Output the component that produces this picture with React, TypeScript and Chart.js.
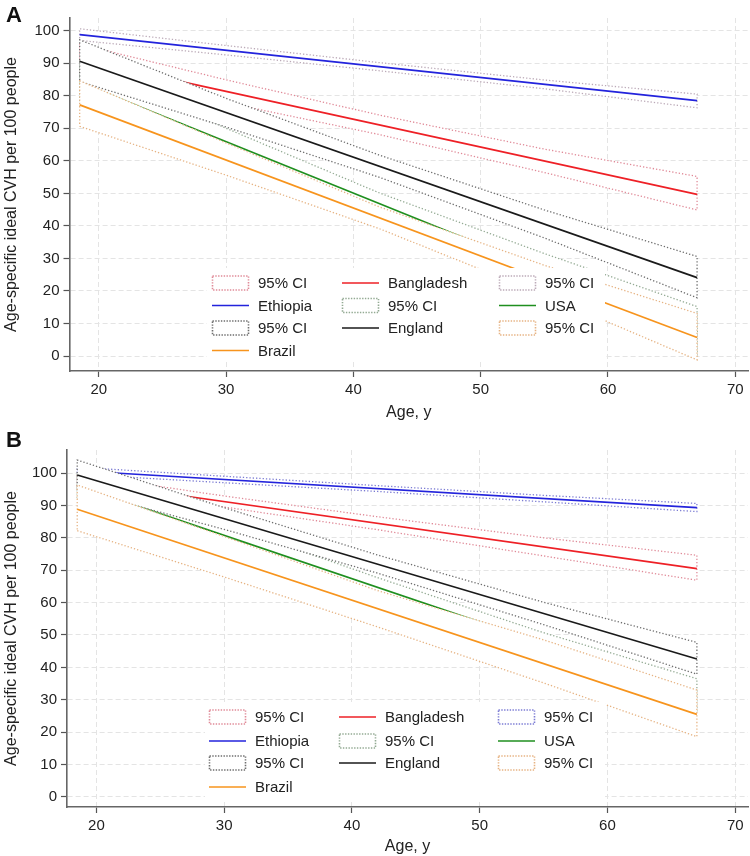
import React, { useEffect, useRef } from 'react';
import { Chart, registerables } from 'chart.js';

Chart.register(...registerables);

// ---------------- data ----------------
const LINE_AGES = [18.5, 67];
const CI_AGES = [18.5, 30, 42, 55, 67];
const COUNTRIES = ['Bangladesh', 'Ethiopia', 'USA', 'England', 'Brazil'];
const X_TICKS = [20, 30, 40, 50, 60, 70];
const Y_TICKS = [0, 10, 20, 30, 40, 50, 60, 70, 80, 90, 100];

// Panel A: fitted line (at LINE_AGES) and 95% CI bounds (at CI_AGES)
const A_BANGLADESH = [91.2, 49.7];
const A_BANGLADESH_LO = [86.6, 77.9, 68.1, 56.4, 44.9];
const A_BANGLADESH_HI = [95.8, 84.9, 74.1, 63.6, 55.2];
const A_ETHIOPIA = [98.8, 78.5];
const A_ETHIOPIA_LO = [97.0, 92.55, 87.7, 82.15, 76.3];
const A_ETHIOPIA_HI = [100.6, 95.45, 90.2, 84.85, 80.5];
const A_USA = [84.1, 7.4];
const A_USA_LO = [77.6, 61.8, 43.8, 21.3, -0.4];
const A_USA_HI = [90.6, 70.0, 50.2, 31.5, 15.2];
const A_ENGLAND = [90.6, 24.1];
const A_ENGLAND_LO = [84.4, 70.4, 55.0, 36.3, 17.9];
const A_ENGLAND_HI = [97.2, 79.2, 61.8, 44.9, 30.6];
const A_BRAZIL = [77.2, 5.7];
const A_BRAZIL_LO = [70.6, 55.6, 39.2, 18.8, -1.2];
const A_BRAZIL_HI = [84.6, 65.5, 45.9, 27.9, 13.1];

// Panel B
const B_BANGLADESH = [97.6, 70.5];
const B_BANGLADESH_LO = [95.6, 89.5, 82.5, 74.4, 66.9];
const B_BANGLADESH_HI = [99.6, 92.9, 86.5, 80.0, 74.6];
const B_ETHIOPIA = [100.7, 89.3];
const B_ETHIOPIA_LO = [99.6, 97.0, 94.3, 91.1, 88.1];
const B_ETHIOPIA_HI = [101.8, 99.0, 96.1, 93.1, 90.6];
const B_USA = [96.1, 31.3];
const B_USA_LO = [92.2, 77.1, 61.7, 43.9, 26.1];
const B_USA_HI = [100.0, 84.3, 67.7, 50.7, 36.5];
const B_ENGLAND = [99.4, 42.6];
const B_ENGLAND_LO = [94.8, 82.6, 69.1, 53.2, 37.9];
const B_ENGLAND_HI = [104.0, 89.3, 74.7, 60.1, 47.7];
const B_BRAZIL = [88.8, 25.5];
const B_BRAZIL_LO = [82.2, 67.9, 52.5, 35.2, 18.6];
const B_BRAZIL_HI = [96.3, 80.4, 63.7, 48.5, 33.0];

// ---------------- style ----------------
const FONT = "'Liberation Sans', Arial, Helvetica, sans-serif";
const TEXT = '#222222';
const LINE_COLORS = ['#ee2026', '#2323dc', '#1f8f1f', '#1a1a1a', '#f7941d'];
const CI_COLORS_A = ['#e08a98', '#bcaab8', '#93aa93', '#6e6e6e', '#e6b383'];
const CI_COLORS_B = ['#e08a98', '#7c7cd4', '#93aa93', '#6e6e6e', '#e6b383'];

type Panel = {
  line: number[][];
  lo: number[][];
  hi: number[][];
  ciColors: string[];
  yMin: number;
  yMax: number;
  layoutTop: number;
  yAxisWidth: number;
  xAxisHeight: number;
  legend: { x: number; y: number; w: number; h: number; rowY: number[]; colX: number[] };
};

const PANEL_A: Panel = {
  line: [A_BANGLADESH, A_ETHIOPIA, A_USA, A_ENGLAND, A_BRAZIL],
  lo: [A_BANGLADESH_LO, A_ETHIOPIA_LO, A_USA_LO, A_ENGLAND_LO, A_BRAZIL_LO],
  hi: [A_BANGLADESH_HI, A_ETHIOPIA_HI, A_USA_HI, A_ENGLAND_HI, A_BRAZIL_HI],
  ciColors: CI_COLORS_A,
  yMin: -4.6,
  yMax: 103.9,
  layoutTop: 18,
  yAxisWidth: 69.5,
  xAxisHeight: 51,
  legend: { x: 207, y: 268, w: 398, h: 94, rowY: [283, 305.5, 328, 350.5], colX: [212, 342, 499] },
};

const PANEL_B: Panel = {
  line: [B_BANGLADESH, B_ETHIOPIA, B_USA, B_ENGLAND, B_BRAZIL],
  lo: [B_BANGLADESH_LO, B_ETHIOPIA_LO, B_USA_LO, B_ENGLAND_LO, B_BRAZIL_LO],
  hi: [B_BANGLADESH_HI, B_ETHIOPIA_HI, B_USA_HI, B_ENGLAND_HI, B_BRAZIL_HI],
  ciColors: CI_COLORS_B,
  yMin: -3.1,
  yMax: 107.1,
  layoutTop: 28,
  yAxisWidth: 67,
  xAxisHeight: 49,
  legend: { x: 205, y: 280, w: 400, h: 98, rowY: [295, 319, 341, 365], colX: [209, 339, 498] },
};

const legendPlugin = {
  id: 'ciLegend',
  afterDatasetsDraw(chart: any) {
    const p: Panel = chart.options.plugins.ciLegend.panel;
    const L = p.legend;
    const ctx = chart.ctx;
    ctx.save();
    ctx.fillStyle = '#ffffff';
    ctx.fillRect(L.x, L.y, L.w, L.h);
    ctx.font = `15px ${FONT}`;
    ctx.textBaseline = 'middle';
    ctx.textAlign = 'left';
    const items: { kind: 'ci' | 'line'; color: string; label: string }[] = [];
    COUNTRIES.forEach((c, i) => {
      items.push({ kind: 'ci', color: p.ciColors[i], label: '95% CI' });
      items.push({ kind: 'line', color: LINE_COLORS[i], label: c });
    });
    items.forEach((it, k) => {
      const row = Math.floor(k / 3);
      const col = k % 3;
      const x = L.colX[col];
      const y = L.rowY[row];
      if (it.kind === 'ci') {
        ctx.fillStyle = '#ffffff';
        ctx.fillRect(x, y - 7.5, 37, 15);
        ctx.strokeStyle = it.color;
        ctx.lineWidth = 1.6;
        ctx.setLineDash([1.4, 1.4]);
        ctx.strokeRect(x + 0.5, y - 7, 36, 14);
        ctx.setLineDash([]);
      } else {
        ctx.strokeStyle = it.color;
        ctx.lineWidth = 1.6;
        ctx.beginPath();
        ctx.moveTo(x, y);
        ctx.lineTo(x + 37, y);
        ctx.stroke();
      }
      ctx.fillStyle = TEXT;
      ctx.fillText(it.label, x + 46, y + 1);
    });
    ctx.restore();
  },
};

function buildConfig(p: Panel): any {
  const datasets: any[] = [];
  let order = 100;
  COUNTRIES.forEach((c, i) => {
    const lo = p.lo[i];
    const hi = p.hi[i];
    const poly = [
      ...CI_AGES.map((a, k) => ({ x: a, y: lo[k] })),
      ...CI_AGES.map((a, k) => ({ x: a, y: hi[k] })).reverse(),
      { x: CI_AGES[0], y: lo[0] },
    ];
    datasets.push({
      label: '95% CI',
      data: poly,
      borderColor: p.ciColors[i],
      borderWidth: 1.3,
      borderDash: [1.3, 2],
      backgroundColor: '#ffffff',
      fill: 'shape',
      pointRadius: 0,
      tension: 0,
      order: order--,
    });
    datasets.push({
      label: c,
      data: LINE_AGES.map((a, k) => ({ x: a, y: p.line[i][k] })),
      borderColor: LINE_COLORS[i],
      borderWidth: 1.7,
      fill: false,
      pointRadius: 0,
      tension: 0,
      order: order--,
    });
  });

  const tickFont = { family: FONT, size: 15 };
  const titleFont = { family: FONT, size: 16 };
  const gridOpts = {
    color: '#e4e4e4',
    lineWidth: 1,
    tickColor: '#555555',
    tickLength: 6,
    tickWidth: 1.2,
    tickBorderDash: [],
  };
  return {
    type: 'line',
    data: { datasets },
    plugins: [legendPlugin],
    options: {
      animation: false,
      responsive: false,
      maintainAspectRatio: false,
      layout: { padding: { top: p.layoutTop, right: 2, left: 0, bottom: 0 } },
      plugins: {
        legend: { display: false },
        tooltip: { enabled: false },
        filler: { drawTime: 'beforeDatasetDraw', propagate: false },
        ciLegend: { panel: p },
      },
      scales: {
        x: {
          type: 'linear',
          min: 17.7,
          max: 71,
          afterBuildTicks: (s: any) => {
            s.ticks = X_TICKS.map((v) => ({ value: v }));
          },
          afterFit: (s: any) => {
            s.height = p.xAxisHeight;
          },
          ticks: { font: tickFont, color: TEXT, padding: 4, maxRotation: 0 },
          grid: gridOpts,
          border: { display: true, color: '#666666', width: 1.6, dash: [5, 3] },
          title: { display: true, text: 'Age, y', font: titleFont, color: TEXT, padding: 0 },
        },
        y: {
          type: 'linear',
          min: p.yMin,
          max: p.yMax,
          afterBuildTicks: (s: any) => {
            s.ticks = Y_TICKS.map((v) => ({ value: v }));
          },
          afterFit: (s: any) => {
            s.width = p.yAxisWidth;
          },
          ticks: { font: tickFont, color: TEXT, padding: 4 },
          grid: gridOpts,
          border: { display: true, color: '#666666', width: 1.6, dash: [5, 3] },
          title: {
            display: true,
            text: 'Age-specific ideal CVH per 100 people',
            font: titleFont,
            color: TEXT,
            padding: { top: 2, bottom: 0 },
          },
        },
      },
    },
  };
}

function PanelChart({ panel, top, height }: { panel: Panel; top: number; height: number }) {
  const ref = useRef<HTMLCanvasElement | null>(null);
  useEffect(() => {
    if (!ref.current) return;
    const chart = new Chart(ref.current, buildConfig(panel));
    return () => chart.destroy();
  }, [panel]);
  return (
    <canvas
      ref={ref}
      width={750}
      height={height}
      style={{ position: 'absolute', left: 0, top, width: 750, height }}
    />
  );
}

export default function App() {
  const labelStyle: React.CSSProperties = {
    position: 'absolute',
    left: 6,
    fontFamily: FONT,
    fontWeight: 'bold',
    fontSize: 22,
    lineHeight: '22px',
    color: '#111',
  };
  return (
    <div style={{ position: 'absolute', left: 0, top: 0, width: 750, height: 856, background: '#ffffff' }}>
      <PanelChart panel={PANEL_A} top={0} height={422} />
      <PanelChart panel={PANEL_B} top={422} height={434} />
      <div style={{ ...labelStyle, top: 4 }}>A</div>
      <div style={{ ...labelStyle, top: 429 }}>B</div>
    </div>
  );
}
